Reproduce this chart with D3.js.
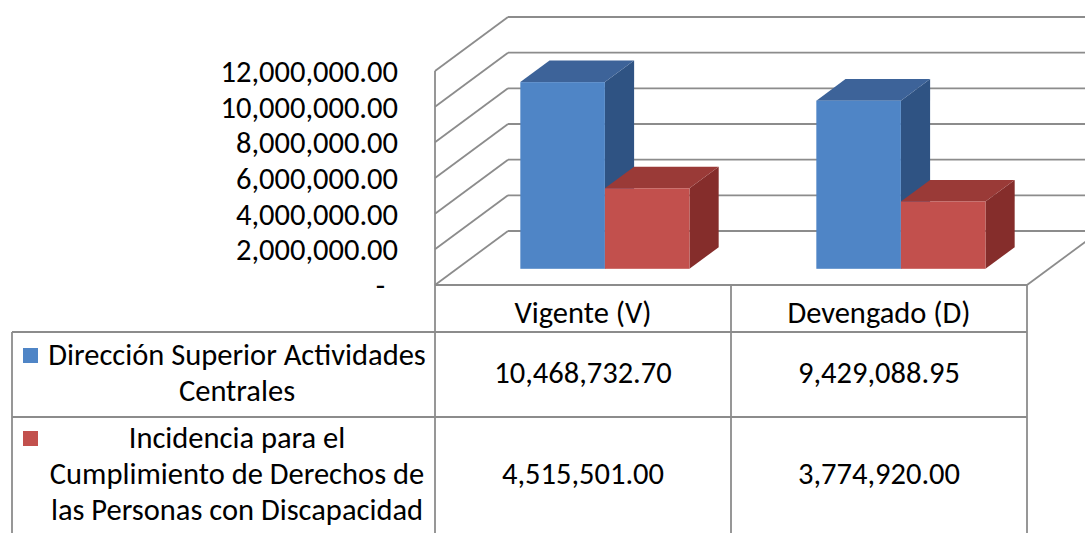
<!DOCTYPE html>
<html>
<head>
<meta charset="utf-8">
<script src="https://cdn.jsdelivr.net/npm/d3@7"></script>
<style>
  body { margin: 0; background: #fff; }
  svg { display: block; font-family: Carlito, Calibri, Lato, sans-serif; }
</style>
</head>
<body>
<svg id="chart" width="1085" height="533"></svg>
<script>
// data
const categories = ['Vigente (V)', 'Devengado (D)'];
const seriesNames = ['Dirección Superior Actividades Centrales', 'Incidencia para el Cumplimiento de Derechos de las Personas con Discapacidad'];
const seriesLines = [
  ['Dirección Superior Actividades', 'Centrales'],
  ['Incidencia para el', 'Cumplimiento de Derechos de', 'las Personas con Discapacidad']
];
const direccionValues = [10468732.70, 9429088.95];
const incidenciaValues = [4515501.00, 3774920.00];
const yTicks = [0, 2000000, 4000000, 6000000, 8000000, 10000000, 12000000];

const values = [direccionValues, incidenciaValues];
const faceColors = [
  { front: '#4f85c6', top: '#3d6399', side: '#2f5383' },
  { front: '#c2504d', top: '#9a3a37', side: '#852d2b' }
];

const svg = d3.select('#chart');
const fontSize = 30.5;
const gridColor = '#8c8c8c';

// 3d frame
const depth = { dx: 73, dy: -54 };
const barDepth = { from: 0.3, to: 0.7 };

const x0 = d3.scaleBand().domain(categories).range([435, 1027]).padding(0);
const x1 = d3.scaleBand().domain(seriesNames).range([0, x0.bandwidth()]).paddingInner(0).paddingOuter(0.75);
const y = d3.scaleLinear().domain([0, 12000000]).range([285, 71]);

const frame = svg.append('g').attr('class', 'frame')
  .attr('fill', 'none').attr('stroke', gridColor).attr('stroke-width', 1.8);

// back wall gridlines
frame.selectAll('.back-grid')
  .data(yTicks)
  .enter()
  .append('line')
  .attr('x1', x0.range()[0] + depth.dx)
  .attr('x2', x0.range()[1] + depth.dx)
  .attr('y1', d => y(d) + depth.dy)
  .attr('y2', d => y(d) + depth.dy);

// side wall gridlines
frame.selectAll('.side-grid')
  .data(yTicks)
  .enter()
  .append('line')
  .attr('x1', x0.range()[0])
  .attr('x2', x0.range()[0] + depth.dx)
  .attr('y1', d => y(d))
  .attr('y2', d => y(d) + depth.dy);

// floor
frame.append('line')
  .attr('x1', x0.range()[0]).attr('x2', x0.range()[1])
  .attr('y1', y(0)).attr('y2', y(0));
frame.append('line')
  .attr('x1', x0.range()[1]).attr('x2', x0.range()[1] + depth.dx)
  .attr('y1', y(0)).attr('y2', y(0) + depth.dy);

// y axis labels
const fmt = d3.format(',.2f');
svg.append('g')
  .selectAll('text')
  .data(yTicks)
  .enter()
  .append('text')
  .attr('x', d => d === 0 ? 385 : 398)
  .attr('y', d => y(d) + 11)
  .attr('text-anchor', 'end')
  .attr('font-size', fontSize)
  .attr('fill', '#000')
  .text(d => d === 0 ? '-' : fmt(d));

// bars
const offX = depth.dx * barDepth.from;
const offY = depth.dy * barDepth.from;
const bdx = depth.dx * (barDepth.to - barDepth.from);
const bdy = depth.dy * (barDepth.to - barDepth.from);
const bw = x1.bandwidth();

const bars = [];
categories.forEach((c, ci) => {
  seriesNames.forEach((s, si) => {
    bars.push({ cat: c, series: s, si: si, value: values[si][ci] });
  });
});

const barG = svg.append('g').attr('class', 'bars');
bars.forEach(d => {
  const left = x0(d.cat) + x1(d.series) + offX;
  const right = left + bw;
  const top = y(d.value) + offY;
  const bottom = y(0) + offY;
  const col = faceColors[d.si];
  const g = barG.append('g');
  g.append('path')
    .attr('fill', col.side)
    .attr('d', `M${right},${bottom}L${right + bdx},${bottom + bdy}L${right + bdx},${top + bdy}L${right},${top}Z`);
  g.append('path')
    .attr('fill', col.top)
    .attr('d', `M${left},${top}L${right},${top}L${right + bdx},${top + bdy}L${left + bdx},${top + bdy}Z`);
  g.append('rect')
    .attr('x', left)
    .attr('y', top)
    .attr('width', bw)
    .attr('height', bottom - top)
    .attr('fill', col.front);
});

// data table
const tableLeft = 12;
const rowTops = [285, 332, 417, 545];
const table = svg.append('g').attr('class', 'table')
  .attr('stroke', gridColor).attr('stroke-width', 1.8).attr('fill', 'none');

// header cell borders
table.append('line')
  .attr('x1', x0.range()[0]).attr('x2', x0.range()[0])
  .attr('y1', y(12000000)).attr('y2', rowTops[3]);
categories.forEach(c => {
  table.append('line')
    .attr('x1', x0(c) + x0.bandwidth()).attr('x2', x0(c) + x0.bandwidth())
    .attr('y1', rowTops[0]).attr('y2', rowTops[3]);
});
table.append('line')
  .attr('x1', tableLeft).attr('x2', tableLeft)
  .attr('y1', rowTops[1]).attr('y2', rowTops[3]);
[rowTops[1], rowTops[2]].forEach(ry => {
  table.append('line')
    .attr('x1', tableLeft).attr('x2', x0.range()[1])
    .attr('y1', ry).attr('y2', ry);
});

// header text
svg.append('g')
  .selectAll('text')
  .data(categories)
  .enter()
  .append('text')
  .attr('x', d => x0(d) + x0.bandwidth() / 2)
  .attr('y', 323)
  .attr('text-anchor', 'middle')
  .attr('font-size', fontSize)
  .text(d => d);

const lineH = 36;
seriesNames.forEach((s, si) => {
  const lines = seriesLines[si];
  const firstBase = si === 0 ? 365 : 448;

  // legend key
  svg.append('rect')
    .attr('x', 23)
    .attr('y', firstBase - 17)
    .attr('width', 15)
    .attr('height', 15)
    .attr('fill', faceColors[si].front);

  const label = svg.append('text')
    .attr('text-anchor', 'middle')
    .attr('font-size', fontSize);
  lines.forEach((ln, li) => {
    label.append('tspan')
      .attr('x', 237)
      .attr('y', firstBase + li * lineH)
      .text(ln);
  });

  // values
  const midBase = firstBase + (lines.length - 1) * lineH / 2;
  svg.append('g')
    .selectAll('text')
    .data(categories)
    .enter()
    .append('text')
    .attr('x', d => x0(d) + x0.bandwidth() / 2)
    .attr('y', midBase)
    .attr('text-anchor', 'middle')
    .attr('font-size', fontSize)
    .text((d, ci) => fmt(values[si][ci]));
});
</script>
</body>
</html>
